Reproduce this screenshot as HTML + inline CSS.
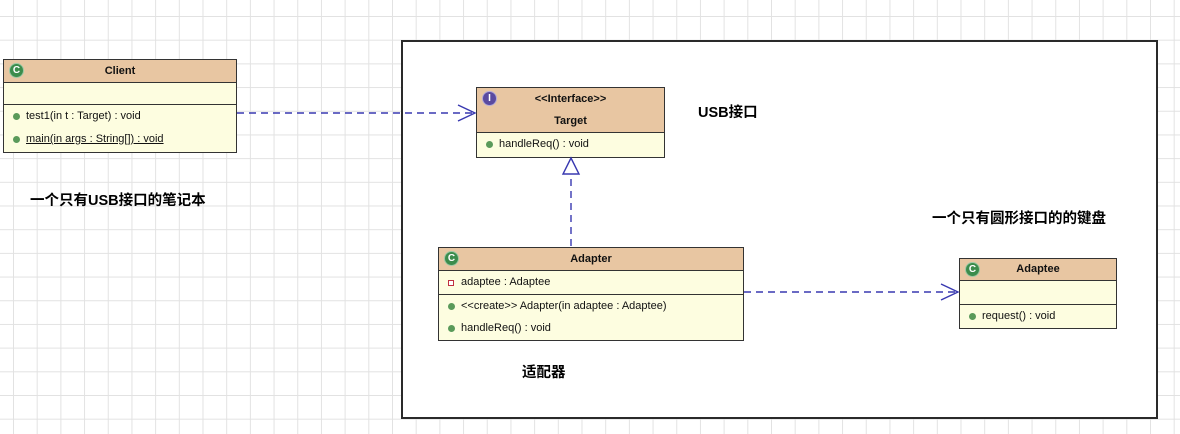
<!DOCTYPE html>
<html><head><meta charset="utf-8"><style>
html,body{margin:0;padding:0}
body{width:1180px;height:434px;position:relative;overflow:hidden;font-family:"Liberation Sans","Noto Sans CJK SC",sans-serif;
background-color:#fff;
background-image:linear-gradient(to right,#e2e2e2 1px,transparent 1px),linear-gradient(to bottom,#e2e2e2 1px,transparent 1px);
background-size:23.7px 23.7px;background-position:13px 16px;}
.frame{position:absolute;left:401px;top:40px;width:753px;height:375px;border:2px solid #2a2a2a;background:#fff}
.box{position:absolute;border:1px solid #333;background:#fdfde0;font-size:11px;color:#111}
.hd{background:#e8c6a2;border-bottom:1px solid #333;position:relative;text-align:center;font-weight:bold;font-size:11px}
.sec{border-bottom:1px solid #333;position:relative}
.sec:last-child{border-bottom:none}
.row{height:23px;line-height:23px;padding-left:22px;position:relative;white-space:nowrap}
.row:before{content:"";position:absolute;left:9px;top:8px;width:7px;height:7px;border-radius:50%;background:#5a9a5a}
.row.priv:before{border-radius:0;background:#fff;border:1.5px solid #c03040;width:4px;height:4px;top:9px}
.ic{position:absolute;left:5px;top:3px;width:13px;height:13px;border-radius:50%;background:#3c8c4c;color:#fff;font-size:10px;line-height:13px;text-align:center;font-weight:bold;border:1px solid #9cc8a4}
.ic.i{background:#5a4aa0;border-color:#b0a8d8}
.lbl{position:absolute;font-weight:bold;font-size:14.5px;color:#000;white-space:nowrap}
svg{position:absolute;left:0;top:0}
</style></head><body>
<div class="frame"></div>

<div class="box" style="left:3px;top:59px;width:232px;height:92px">
 <div class="hd" style="height:22px;line-height:22px"><span class="ic">C</span>Client</div>
 <div class="sec" style="height:21px"></div>
 <div class="sec"><div class="row">test1(in t : Target) : void</div><div class="row"><u>main(in args : String[]) : void</u></div></div>
</div>

<div class="box" style="left:476px;top:87px;width:187px;height:69px">
 <div class="hd" style="height:44px;line-height:22px"><span class="ic i">I</span>&lt;&lt;Interface&gt;&gt;<br>Target</div>
 <div class="sec"><div class="row">handleReq() : void</div></div>
</div>

<div class="box" style="left:438px;top:247px;width:304px;height:92px">
 <div class="hd" style="height:22px;line-height:22px"><span class="ic">C</span>Adapter</div>
 <div class="sec"><div class="row priv">adaptee : Adaptee</div></div>
 <div class="sec"><div class="row" style="height:22px;line-height:22px">&lt;&lt;create&gt;&gt; Adapter(in adaptee : Adaptee)</div><div class="row" style="height:22px;line-height:22px">handleReq() : void</div></div>
</div>

<div class="box" style="left:959px;top:258px;width:156px;height:69px">
 <div class="hd" style="height:21px;line-height:21px"><span class="ic">C</span>Adaptee</div>
 <div class="sec" style="height:23px"></div>
 <div class="sec"><div class="row">request() : void</div></div>
</div>

<svg width="1180" height="434">
 <g stroke="#3838b0" stroke-width="1.4" fill="none">
  <line x1="237" y1="113" x2="474" y2="113" stroke-dasharray="7,5"/>
  <polyline points="458,105 475,113 458,121"/>
  <line x1="744" y1="292" x2="957" y2="292" stroke-dasharray="7,5"/>
  <polyline points="941,284 958,292 941,300"/>
  <line x1="571" y1="246" x2="571" y2="175" stroke-dasharray="7,5"/>
  <polygon points="571,158 563,174 579,174" fill="#fff"/>
 </g>
</svg>

<div class="lbl" style="left:698px;top:101px">USB接口</div>
<div class="lbl" style="left:30px;top:189px">一个只有USB接口的笔记本</div>
<div class="lbl" style="left:932px;top:207px">一个只有圆形接口的的键盘</div>
<div class="lbl" style="left:522px;top:361px">适配器</div>
</body></html>
